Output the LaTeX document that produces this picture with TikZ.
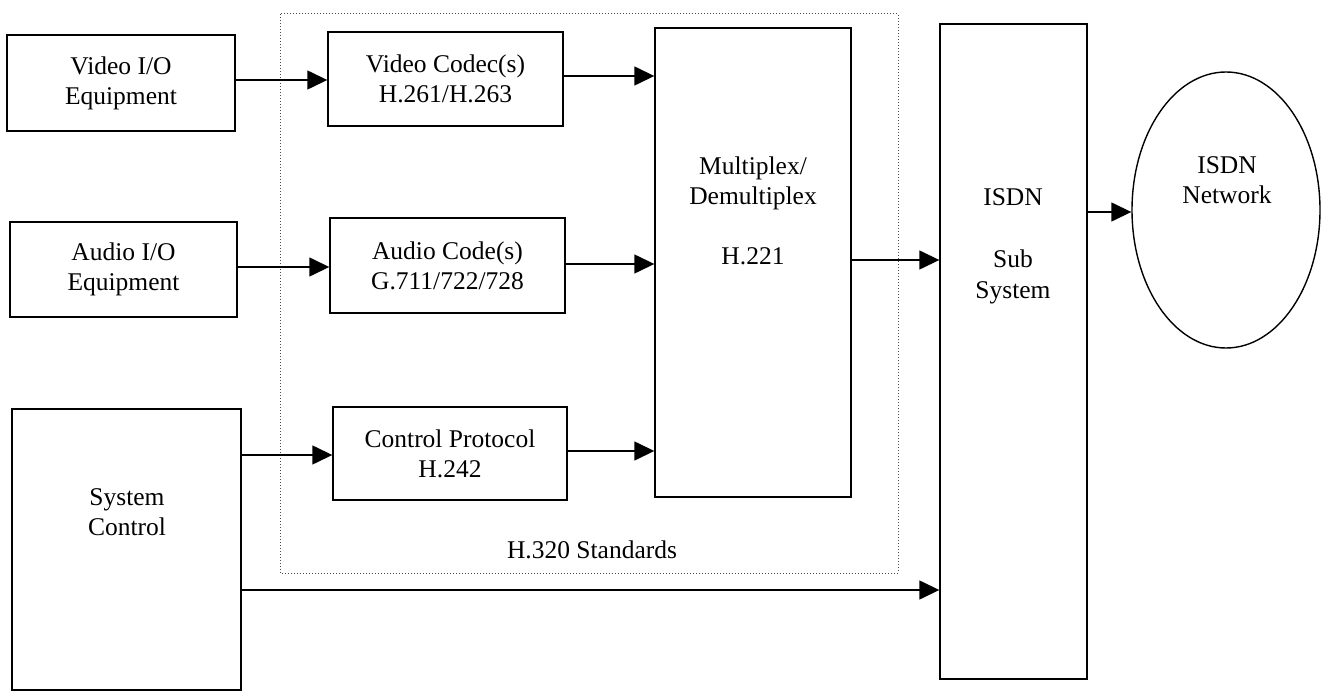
\documentclass[tikz,border=0pt]{standalone}
\usepackage{fontspec}
\setmainfont{Liberation Serif}
\usetikzlibrary{arrows.meta,shapes.geometric}
\begin{document}
\begin{tikzpicture}[x=1pt,y=-1pt,
  every node/.style={font=\fontsize{25.5}{30}\selectfont, align=center, inner sep=0pt},
  box/.style={draw, line width=1.4pt, rectangle},
  lbl/.style={},
  conn/.style={line width=1.4pt, -{Triangle[length=20pt,width=19pt]}},
  frame/.style={draw=black!70, line width=1pt, dotted}
]
\useasboundingbox (0,0) rectangle (1324,692);
% dotted standards frame
\draw[frame] (280,14) rectangle (898,573);
\node[lbl] (std) at (592,550) {H.320 Standards};
% boxes
\node[box, minimum width=228pt, minimum height=96pt] (vio) at (121,83) {Video I/O\\Equipment};
\node[box, minimum width=227pt, minimum height=95pt] (aio) at (123.5,269.5) {Audio I/O\\Equipment};
\node[box, minimum width=229pt, minimum height=281pt] (sc) at (126.5,549.5) {};
\node[lbl] (sclbl) at (127,512) {System\\Control};
\node[box, minimum width=235pt, minimum height=94pt] (vc) at (445.5,79) {Video Codec(s)\\H.261/H.263};
\node[box, minimum width=235pt, minimum height=95pt] (ac) at (447.5,265.5) {Audio Code(s)\\G.711/722/728};
\node[box, minimum width=234pt, minimum height=93pt] (cp) at (450,453.5) {Control Protocol\\H.242};
\node[box, minimum width=196pt, minimum height=469pt] (mux) at (753,262.5) {};
\node[lbl] (muxlbl) at (753,211) {Multiplex/\\Demultiplex\\[30pt]H.221};
\node[box, minimum width=147pt, minimum height=655pt] (isdn) at (1013.5,351.5) {};
\node[lbl, font=\fontsize{25.5}{31}\selectfont] (isdnlbl) at (1013,246) {ISDN\\[31pt]Sub\\System};
\node[draw, line width=1.4pt, ellipse, minimum width=188pt, minimum height=276pt] (net) at (1226,210) {};
\node[lbl] (netlbl) at (1227,180) {ISDN\\Network};
% connectors
\draw[conn] (vio.east |- 0,80) -- (vc.west |- 0,80);
\draw[conn] (vc.east |- 0,76) -- (mux.west |- 0,76);
\draw[conn] (aio.east |- 0,267) -- (ac.west |- 0,267);
\draw[conn] (ac.east |- 0,264) -- (mux.west |- 0,264);
\draw[conn] (sc.east |- 0,455) -- (cp.west |- 0,455);
\draw[conn] (cp.east |- 0,451) -- (mux.west |- 0,451);
\draw[conn] (mux.east |- 0,260) -- (isdn.west |- 0,260);
\draw[conn] (isdn.east |- 0,212) -- (net.west |- 0,212);
\draw[conn] (sc.east |- 0,590) -- (isdn.west |- 0,590);
\end{tikzpicture}
\end{document}
